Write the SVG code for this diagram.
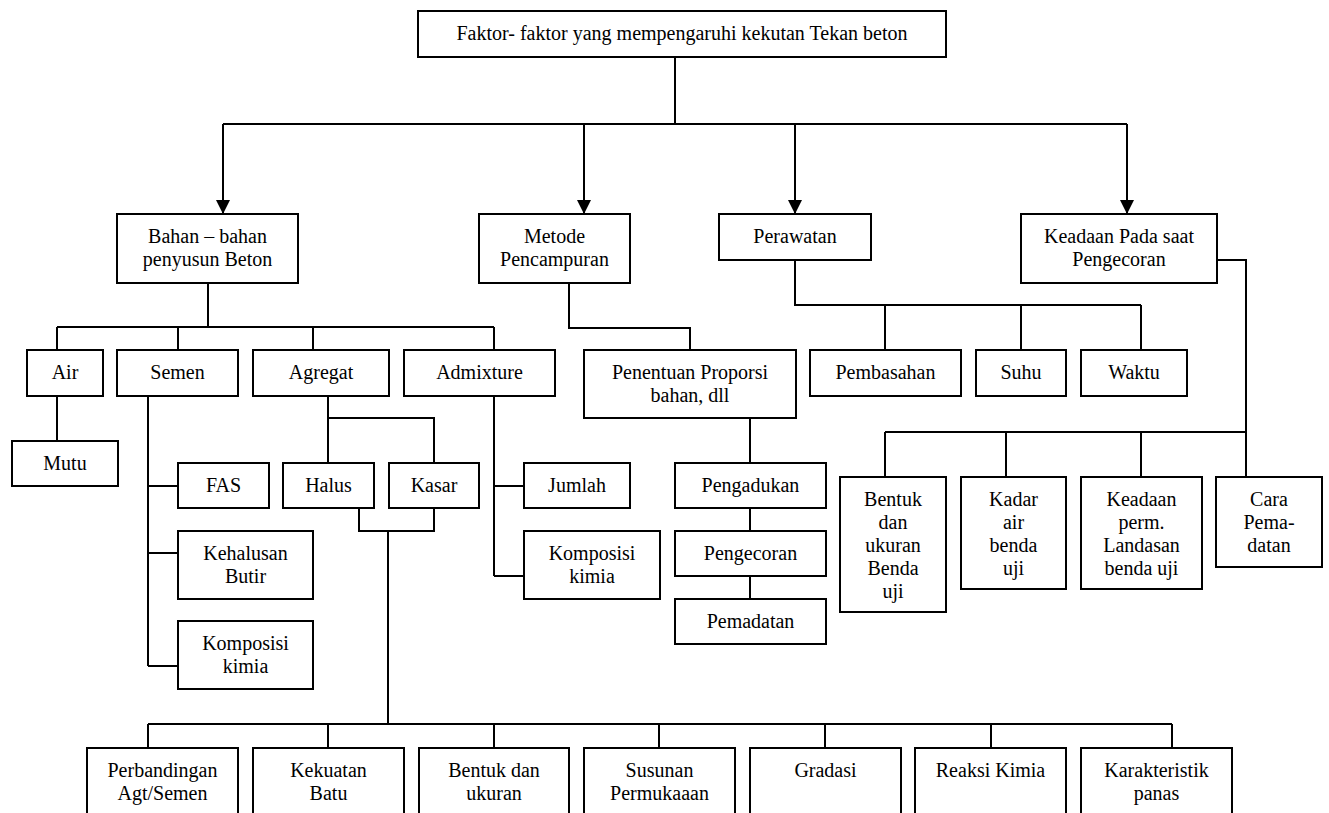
<svg xmlns="http://www.w3.org/2000/svg" width="1329" height="813" viewBox="0 0 1329 813">
<defs>
<style>
.box{fill:#fff;stroke:#000;stroke-width:2}
.ln{fill:none;stroke:#000;stroke-width:2}
text{font-family:"Liberation Serif","Times New Roman",serif;font-size:20px;text-anchor:middle;fill:#000}
</style>
<marker id="arr" markerUnits="userSpaceOnUse" markerWidth="14" markerHeight="14" refX="14" refY="7" orient="auto" viewBox="0 0 14 14">
<path d="M0,0 L14,7 L0,14 z" fill="#000"/>
</marker>
</defs>
<rect width="1329" height="813" fill="#fff"/>
<g id="connectors">
<path class="ln" d="M675,57 V124 M223,124 H1127"/>
<path class="ln" marker-end="url(#arr)" d="M223,124 V214"/>
<path class="ln" marker-end="url(#arr)" d="M584,124 V214"/>
<path class="ln" marker-end="url(#arr)" d="M795,124 V214"/>
<path class="ln" marker-end="url(#arr)" d="M1127,124 V214"/>
<path class="ln" d="M208,283 V327 M57,327 H494 M57,327 V350 M178,327 V350 M313,327 V350 M494,327 V350"/>
<path class="ln" d="M57,396 V441"/>
<path class="ln" d="M148,396 V666 M148,486 H178 M148,553 H178 M148,666 H178"/>
<path class="ln" d="M328,396 V463 M328,418 H434 V463"/>
<path class="ln" d="M359,508 V531 H434 V508 M388,531 V724"/>
<path class="ln" d="M148,724 H1172 M148,724 V748 M328,724 V748 M494,724 V748 M659,724 V748 M825,724 V748 M991,724 V748 M1172,724 V748"/>
<path class="ln" d="M494,396 V576 M494,486 H524 M494,576 H524"/>
<path class="ln" d="M569,283 V328 H690 V350"/>
<path class="ln" d="M750,418 V463 M750,508 V531 M750,576 V599"/>
<path class="ln" d="M795,260 V305 H1141 M885,305 V350 M1021,305 V350 M1141,305 V350"/>
<path class="ln" d="M1217,260 H1246 V477 M885,432 H1246 M885,432 V477 M1006,432 V477 M1141,432 V477"/>
</g>
<g id="top"><rect class="box" x="418" y="11" width="528" height="46"/><text x="682" y="40">Faktor- faktor yang mempengaruhi kekutan Tekan beton</text></g>
<g id="bahan"><rect class="box" x="117" y="214" width="181" height="69"/><text x="207.5" y="242.5">Bahan – bahan<tspan x="207.5" dy="23">penyusun Beton</tspan></text></g>
<g id="metode"><rect class="box" x="479" y="214" width="151" height="69"/><text x="554.5" y="242.5">Metode<tspan x="554.5" dy="23">Pencampuran</tspan></text></g>
<g id="perawatan"><rect class="box" x="719" y="214" width="152" height="46"/><text x="795" y="243">Perawatan</text></g>
<g id="keadaan"><rect class="box" x="1021" y="214" width="196" height="69"/><text x="1119" y="242.5">Keadaan Pada saat<tspan x="1119" dy="23">Pengecoran</tspan></text></g>
<g id="air"><rect class="box" x="27" y="350" width="76" height="46"/><text x="65" y="379">Air</text></g>
<g id="semen"><rect class="box" x="117" y="350" width="121" height="46"/><text x="177.5" y="379">Semen</text></g>
<g id="agregat"><rect class="box" x="253" y="350" width="136" height="46"/><text x="321" y="379">Agregat</text></g>
<g id="admixture"><rect class="box" x="404" y="350" width="151" height="46"/><text x="479.5" y="379">Admixture</text></g>
<g id="penentuan"><rect class="box" x="584" y="350" width="212" height="68"/><text x="690" y="379">Penentuan Proporsi<tspan x="690" dy="23">bahan, dll</tspan></text></g>
<g id="pembasahan"><rect class="box" x="810" y="350" width="151" height="46"/><text x="885.5" y="379">Pembasahan</text></g>
<g id="suhu"><rect class="box" x="976" y="350" width="90" height="46"/><text x="1021" y="379">Suhu</text></g>
<g id="waktu"><rect class="box" x="1081" y="350" width="106" height="46"/><text x="1134" y="379">Waktu</text></g>
<g id="mutu"><rect class="box" x="12" y="441" width="106" height="45"/><text x="65" y="469.5">Mutu</text></g>
<g id="fas"><rect class="box" x="178" y="463" width="91" height="45"/><text x="223.5" y="491.5">FAS</text></g>
<g id="halus"><rect class="box" x="283" y="463" width="91" height="45"/><text x="328.5" y="491.5">Halus</text></g>
<g id="kasar"><rect class="box" x="389" y="463" width="90" height="45"/><text x="434" y="491.5">Kasar</text></g>
<g id="jumlah"><rect class="box" x="524" y="463" width="106" height="45"/><text x="577" y="491.5">Jumlah</text></g>
<g id="pengadukan"><rect class="box" x="675" y="463" width="151" height="45"/><text x="750.5" y="491.5">Pengadukan</text></g>
<g id="kehalusan"><rect class="box" x="178" y="531" width="135" height="68"/><text x="245.5" y="559.5">Kehalusan<tspan x="245.5" dy="23">Butir</tspan></text></g>
<g id="komposisi-admixture"><rect class="box" x="524" y="531" width="136" height="68"/><text x="592" y="559.5">Komposisi<tspan x="592" dy="23">kimia</tspan></text></g>
<g id="pengecoran"><rect class="box" x="675" y="531" width="151" height="45"/><text x="750.5" y="559.5">Pengecoran</text></g>
<g id="pemadatan"><rect class="box" x="675" y="599" width="151" height="45"/><text x="750.5" y="627.5">Pemadatan</text></g>
<g id="komposisi-semen"><rect class="box" x="178" y="621" width="135" height="68"/><text x="245.5" y="649.5">Komposisi<tspan x="245.5" dy="23">kimia</tspan></text></g>
<g id="bentuk-benda-uji"><rect class="box" x="840" y="477" width="106" height="135"/><text x="893" y="505.5">Bentuk<tspan x="893" dy="23">dan</tspan><tspan x="893" dy="23">ukuran</tspan><tspan x="893" dy="23">Benda</tspan><tspan x="893" dy="23">uji</tspan></text></g>
<g id="kadar-air"><rect class="box" x="961" y="477" width="105" height="112"/><text x="1013.5" y="505.5">Kadar<tspan x="1013.5" dy="23">air</tspan><tspan x="1013.5" dy="23">benda</tspan><tspan x="1013.5" dy="23">uji</tspan></text></g>
<g id="keadaan-perm"><rect class="box" x="1081" y="477" width="121" height="112"/><text x="1141.5" y="505.5">Keadaan<tspan x="1141.5" dy="23">perm.</tspan><tspan x="1141.5" dy="23">Landasan</tspan><tspan x="1141.5" dy="23">benda uji</tspan></text></g>
<g id="cara"><rect class="box" x="1216" y="477" width="106" height="90"/><text x="1269" y="505.5">Cara<tspan x="1269" dy="23">Pema-</tspan><tspan x="1269" dy="23">datan</tspan></text></g>
<g id="perbandingan"><rect class="box" x="87" y="748" width="151" height="90"/><text x="162.5" y="776.5">Perbandingan<tspan x="162.5" dy="23">Agt/Semen</tspan></text></g>
<g id="kekuatan"><rect class="box" x="253" y="748" width="151" height="90"/><text x="328.5" y="776.5">Kekuatan<tspan x="328.5" dy="23">Batu</tspan></text></g>
<g id="bentuk-ukuran"><rect class="box" x="419" y="748" width="150" height="90"/><text x="494" y="776.5">Bentuk dan<tspan x="494" dy="23">ukuran</tspan></text></g>
<g id="susunan"><rect class="box" x="584" y="748" width="151" height="90"/><text x="659.5" y="776.5">Susunan<tspan x="659.5" dy="23">Permukaaan</tspan></text></g>
<g id="gradasi"><rect class="box" x="750" y="748" width="151" height="90"/><text x="825.5" y="776.5">Gradasi</text></g>
<g id="reaksi"><rect class="box" x="915" y="748" width="151" height="90"/><text x="990.5" y="776.5">Reaksi Kimia</text></g>
<g id="karakteristik"><rect class="box" x="1081" y="748" width="151" height="90"/><text x="1156.5" y="776.5">Karakteristik<tspan x="1156.5" dy="23">panas</tspan></text></g>
</svg>
